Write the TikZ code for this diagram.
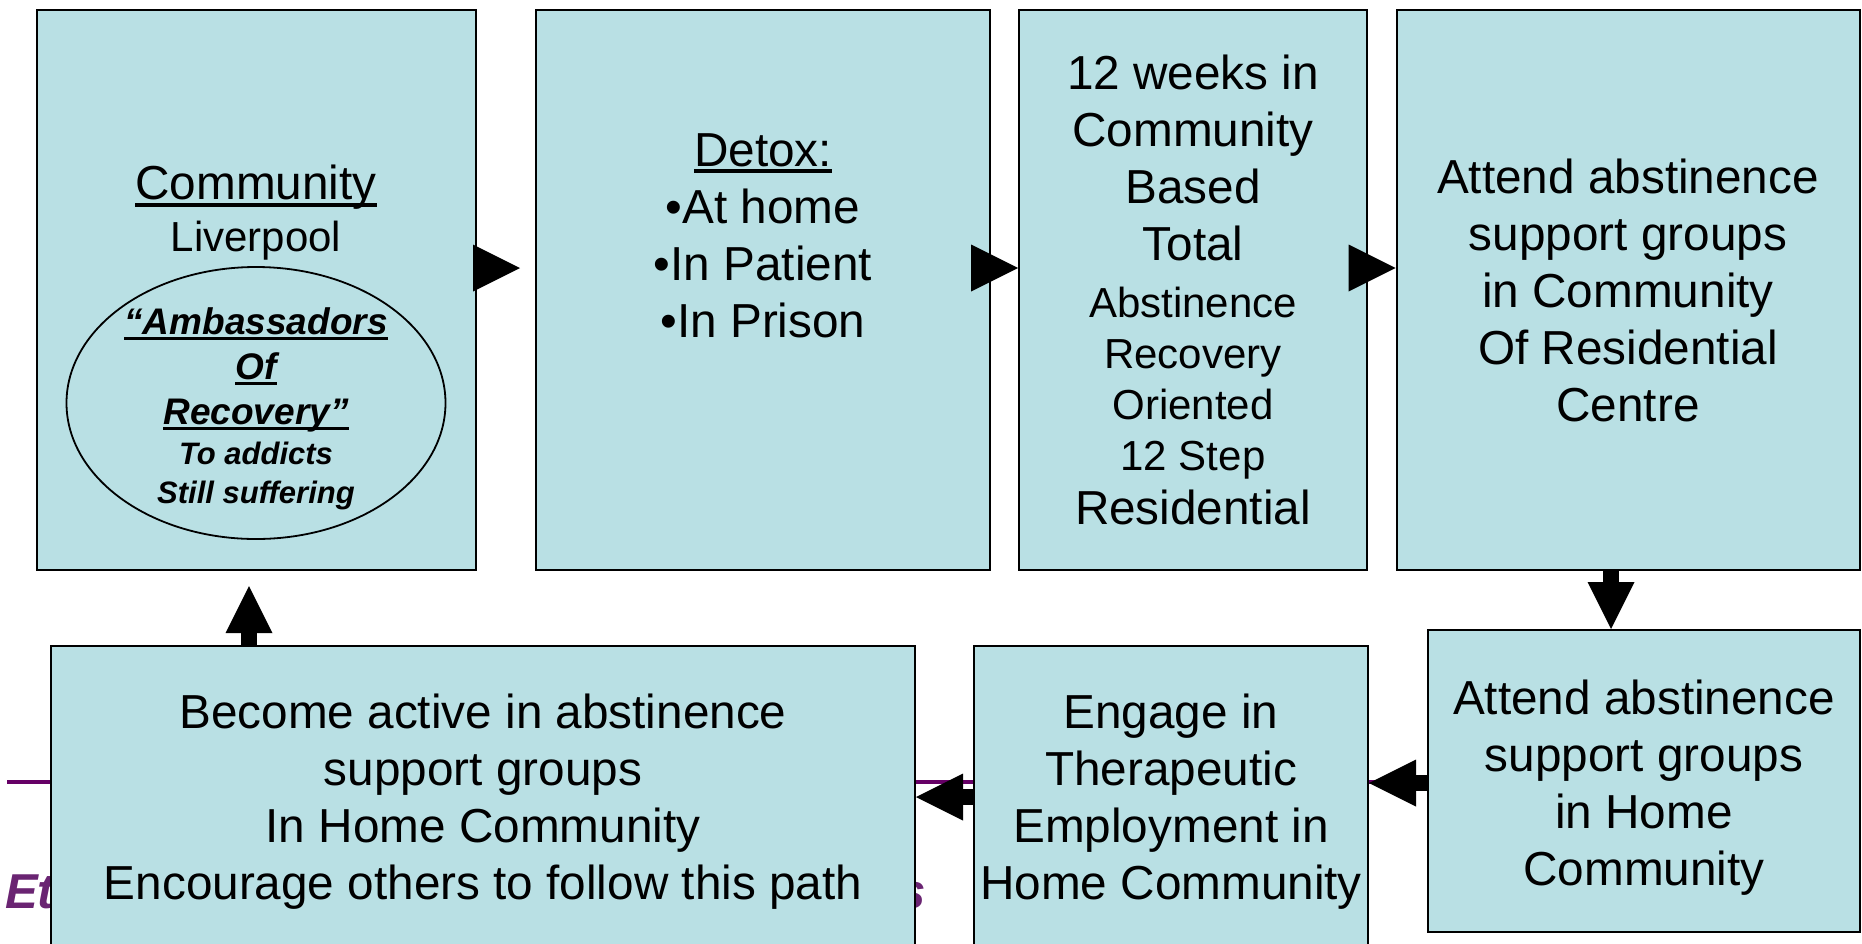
\documentclass[tikz,border=0pt]{standalone}
\usepackage{fontspec}
\setmainfont{Liberation Sans}
\usetikzlibrary{arrows.meta, shapes.geometric}
\definecolor{stagefill}{RGB}{185,224,228}
\definecolor{slideline}{RGB}{102,0,102}
\definecolor{slidetitle}{RGB}{106,36,114}
\newsavebox{\ulinebox}
\newcommand{\ulined}[1]{\sbox{\ulinebox}{#1}\makebox[0pt][l]{\rule[-0.15em]{\wd\ulinebox}{0.08em}}\usebox{\ulinebox}}
\newcommand{\bigtext}{\fontsize{47.7pt}{57pt}\selectfont}
\newcommand{\smalltext}{\fontsize{42pt}{51pt}\selectfont}
\tikzset{
  stage/.style={rectangle, draw, line width=2pt, fill=stagefill, inner sep=0pt, align=center, font=\bigtext},
  stagetext/.style={inner sep=0pt, align=center, font=\bigtext},
  ring/.style={ellipse, draw, line width=1.8pt, fill=stagefill, inner sep=0pt, minimum width=379pt, minimum height=272pt},
  ringtext/.style={inner sep=0pt, align=center, font=\bfseries\itshape\fontsize{37pt}{45pt}\selectfont},
  flow/.style={line width=16pt, -{Triangle[length=47pt, width=47pt, line width=0pt]}},
  titletext/.style={text=slidetitle, font=\bfseries\itshape\fontsize{49pt}{59pt}\selectfont, inner sep=0pt},
}

\begin{document}
\begin{tikzpicture}[x=1pt, y=-1pt]
  \clip (0,0) rectangle (1862,943);

  % Slide background behind the boxes
  \draw[slideline, line width=4pt] (7,782) -- (1800,782);
  \node[titletext, anchor=base west] (titleleft) at (5,908) {Et};
  \node[titletext, anchor=base west] (titleright) at (898,908) {s};

  % Nodes
  \node[stage, minimum width=439pt, minimum height=560pt] (community) at (256,290) {};
  \node[stage, minimum width=454pt, minimum height=560pt] (detox) at (763,290) {};
  \node[stage, minimum width=348pt, minimum height=560pt] (dayprog) at (1193,290) {12 weeks in\\Community\\Based\\Total\\{\smalltext Abstinence}\\[-6pt]{\smalltext Recovery}\\[-6pt]{\smalltext Oriented}\\[-6pt]{\smalltext 12 Step}\\[-3pt]Residential};
  \node[stage, minimum width=463pt, minimum height=560pt] (residence) at (1628,290) {Attend abstinence\\support groups\\in Community\\Of Residential\\Centre};
  \node[stage, minimum width=432pt, minimum height=302pt] (homegroups) at (1644,781) {};
  \node[stage, minimum width=394pt, minimum height=304pt] (employ) at (1171,798) {};
  \node[stage, minimum width=864pt, minimum height=304pt] (active) at (483,798) {};

  % Texts of the boxes
  \node[stagetext, anchor=north] (communitytext) at (256,165) {\ulined{Community}\\[-5pt]{\smalltext Liverpool}};
  \node[stagetext, anchor=north] (detoxtext) at (763,133) {\ulined{Detox:}\\•At home\\•In Patient\\•In Prison};
  \node[stagetext] (homegroupstext) at ([yshift=-7pt]homegroups.center) {Attend abstinence\\support groups\\in Home\\Community};
  \node[stagetext] (employtext) at ([yshift=-4pt]employ.center) {Engage in\\Therapeutic\\Employment in\\Home Community};
  \node[stagetext] (activetext) at ([yshift=-4pt]active.center) {Become active in abstinence\\support groups\\In Home Community\\Encourage others to follow this path};

  % Ellipse
  \node[ring] (ambassadors) at (256,403) {};
  \node[ringtext] (ambassadorstext) at ([yshift=-6pt]ambassadors.center) {\ulined{“Ambassadors}\\\ulined{Of}\\\ulined{Recovery”}\\[-5pt]{\fontsize{31pt}{39pt}\selectfont To addicts}\\[-6pt]{\fontsize{31pt}{39pt}\selectfont Still suffering}};

  % Arrows
  \draw[flow, shorten >=15pt] ([yshift=22pt]community.east) -- ([yshift=22pt]detox.west);
  \draw[flow] ([yshift=22pt]detox.east) -- ([yshift=22pt]dayprog.west);
  \draw[flow] ([yshift=22pt]dayprog.east) -- ([yshift=22pt]residence.west);
  \draw[flow] ([xshift=-17pt]residence.south) -- ([xshift=-17pt]residence.south |- homegroups.north);
  \draw[flow] ([yshift=-2pt]homegroups.west) -- ([yshift=-2pt]homegroups.west -| employ.east);
  \draw[flow] ([yshift=1pt]employ.west) -- ([yshift=1pt]employ.west -| active.east);
  \draw[flow, shorten >=15pt] ([xshift=-234pt]active.north) -- ([xshift=-234pt]active.north |- community.south);

\end{tikzpicture}
\end{document}
